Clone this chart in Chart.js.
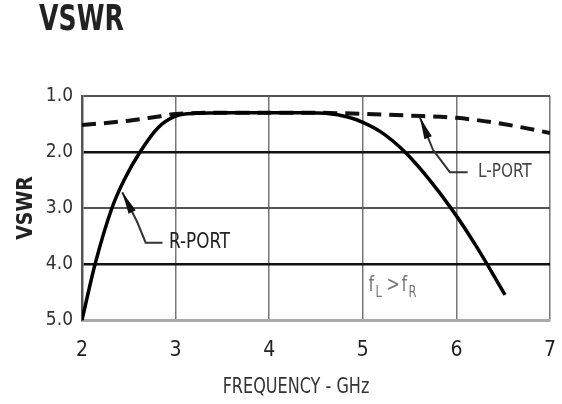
<!DOCTYPE html>
<html>
<head>
<meta charset="utf-8">
<script src="https://cdn.jsdelivr.net/npm/chart.js@4.4.1/dist/chart.umd.min.js"></script>
<style>
  html, body { margin: 0; padding: 0; background: #fff; }
  canvas { display: block; }
</style>
</head>
<body>
<canvas id="myChart" width="562" height="404"></canvas>
<script>
// frequency (GHz) and VSWR
let rPortFreq = [2.0, 2.14, 2.32, 2.45, 2.62, 2.81, 3.0, 3.2, 3.6, 4.0, 4.4, 4.6, 4.85, 5.0, 5.2, 5.45, 5.7, 5.95, 6.2, 6.52];
let rPortVswr = [5.0, 4.0, 3.0, 2.5, 2.0, 1.57, 1.36, 1.31, 1.3, 1.3, 1.3, 1.31, 1.38, 1.47, 1.65, 2.0, 2.47, 3.02, 3.65, 4.55];
let lPortFreq = [2.0, 2.5, 2.8, 3.0, 3.5, 4.0, 4.5, 5.0, 5.5, 6.0, 6.5, 7.0];
let lPortVswr = [1.52, 1.44, 1.37, 1.32, 1.3, 1.3, 1.3, 1.32, 1.35, 1.39, 1.5, 1.66];
let xTicks = [2, 3, 4, 5, 6, 7];
let yTicks = ['1.0', '2.0', '3.0', '4.0', '5.0'];
let xTitle = 'FREQUENCY - GHz';

const narrow = "'DejaVu Sans Condensed', 'Liberation Sans Narrow', sans-serif";

function toPoints(xs, ys){
    return xs.map((x, i) => ({x: x, y: ys[i]}));
}

// heading + callouts, placed with the chart scales
const extras = {
    id: 'extras',
    afterDatasetsDraw(chart){
        const c = chart.ctx;
        const sx = chart.scales.x, sy = chart.scales.y;
        const px = v => sx.getPixelForValue(v);
        const py = v => sy.getPixelForValue(v);

        function squeezed(txt, x, y, font, color, k, align){
            c.save();
            c.font = font;
            c.fillStyle = color;
            c.textBaseline = 'middle';
            c.textAlign = align || 'left';
            c.translate(x, y);
            c.scale(k, 1);
            c.fillText(txt, 0, 0);
            c.restore();
        }

        squeezed('VSWR', 39, 21, 'bold 35px ' + narrow, '#222', 0.8);
        // axis title sits a bit left of the plot centre in the original
        squeezed(xTitle, 296, 388, '21px ' + narrow, '#333', 0.85, 'center');

        function leader(pts){
            c.save();
            c.strokeStyle = '#333';
            c.lineWidth = 2;
            c.beginPath();
            c.moveTo(px(pts[0][0]), py(pts[0][1]));
            for (let k = 1; k < pts.length; k++) c.lineTo(px(pts[k][0]), py(pts[k][1]));
            c.stroke();
            // arrow head at first point
            let x0 = px(pts[0][0]), y0 = py(pts[0][1]);
            let x1 = px(pts[1][0]), y1 = py(pts[1][1]);
            let a = Math.atan2(y1 - y0, x1 - x0);
            c.fillStyle = '#111';
            c.beginPath();
            c.moveTo(x0, y0);
            c.lineTo(x0 + 22*Math.cos(a) - 4*Math.sin(a), y0 + 22*Math.sin(a) + 4*Math.cos(a));
            c.lineTo(x0 + 22*Math.cos(a) + 4*Math.sin(a), y0 + 22*Math.sin(a) - 4*Math.cos(a));
            c.closePath();
            c.fill();
            c.restore();
        }
        leader([[2.43, 2.72], [2.59, 3.25], [2.68, 3.62], [2.86, 3.62]]);
        leader([[5.61, 1.38], [5.75, 1.96], [5.93, 2.36], [6.12, 2.36]]);

        squeezed('R-PORT', px(2.93), py(3.62), '22px ' + narrow, '#222', 0.85);
        squeezed('L-PORT', px(6.23), py(2.36), '20px ' + narrow, '#444', 0.85);

        // f_L > f_R
        let tx = px(5.06), ty = py(4.38);
        squeezed('f', tx, ty, '21px ' + narrow, '#777', 0.85);
        squeezed('L', tx + 7, ty + 8, '15px ' + narrow, '#777', 0.85);
        squeezed('>', tx + 18, ty, '21px ' + narrow, '#777', 0.85);
        squeezed('f', tx + 33, ty, '21px ' + narrow, '#777', 0.85);
        squeezed('R', tx + 40, ty + 8, '15px ' + narrow, '#777', 0.85);
    }
};

var ctx = document.getElementById('myChart').getContext('2d');
var chart = new Chart(ctx, {
    type: 'line',
    data: {
        datasets: [{
            label: 'R-PORT',
            data: toPoints(rPortFreq, rPortVswr),
            borderColor: '#000',
            borderWidth: 3.5,
            pointRadius: 0,
            cubicInterpolationMode: 'monotone',
            fill: false
        }, {
            label: 'L-PORT',
            data: toPoints(lPortFreq, lPortVswr),
            borderColor: '#111',
            borderWidth: 4,
            borderDash: [14, 8],
            pointRadius: 0,
            cubicInterpolationMode: 'monotone',
            fill: false
        }]
    },
    options: {
        responsive: false,
        animation: false,
        layout: { padding: { top: 96, right: 12, bottom: 0, left: 0 } },
        plugins: { legend: { display: false }, tooltip: { enabled: false }, title: { display: false } },
        scales: {
            x: {
                type: 'linear',
                min: 2, max: 7,
                afterFit: s => { s.height = 84; s.paddingLeft = 0; s.paddingRight = 0; },
                afterBuildTicks: s => { s.ticks = xTicks.map(v => ({value: v})); },
                ticks: { color: '#222', padding: 18, font: { family: narrow, size: 21 }, callback: v => String(v) },
                grid: { color: '#777', lineWidth: 1.5, drawTicks: false },
                border: { display: true, color: '#aaa', width: 3 },
                title: { display: false }
            },
            y: {
                type: 'linear',
                reverse: true,
                min: 1, max: 5,
                afterFit: s => { s.width = 82; s.paddingTop = 0; s.paddingBottom = 0; },
                afterBuildTicks: s => { s.ticks = yTicks.map(v => ({value: parseFloat(v)})); },
                ticks: { color: '#333', padding: 9, font: { family: narrow, size: 19 },
                         callback: v => yTicks[yTicks.indexOf(v.toFixed(1))] },
                grid: {
                    drawTicks: false,
                    color: c => (c.tick && (c.tick.value === 2 || c.tick.value === 4)) ? '#111' : (c.tick && c.tick.value === 5 ? '#aaa' : '#555'),
                    lineWidth: c => (c.tick && (c.tick.value === 2 || c.tick.value === 4)) ? 2.5 : (c.tick && c.tick.value === 5 ? 3 : 2)
                },
                border: { display: true, color: '#555', width: 2.5 },
                title: { display: true, text: 'VSWR', color: '#222', padding: { top: 14, bottom: 0 },
                         font: { family: narrow, size: 21, weight: 'bold' } }
            }
        }
    },
    plugins: [extras]
});
</script>
</body>
</html>
